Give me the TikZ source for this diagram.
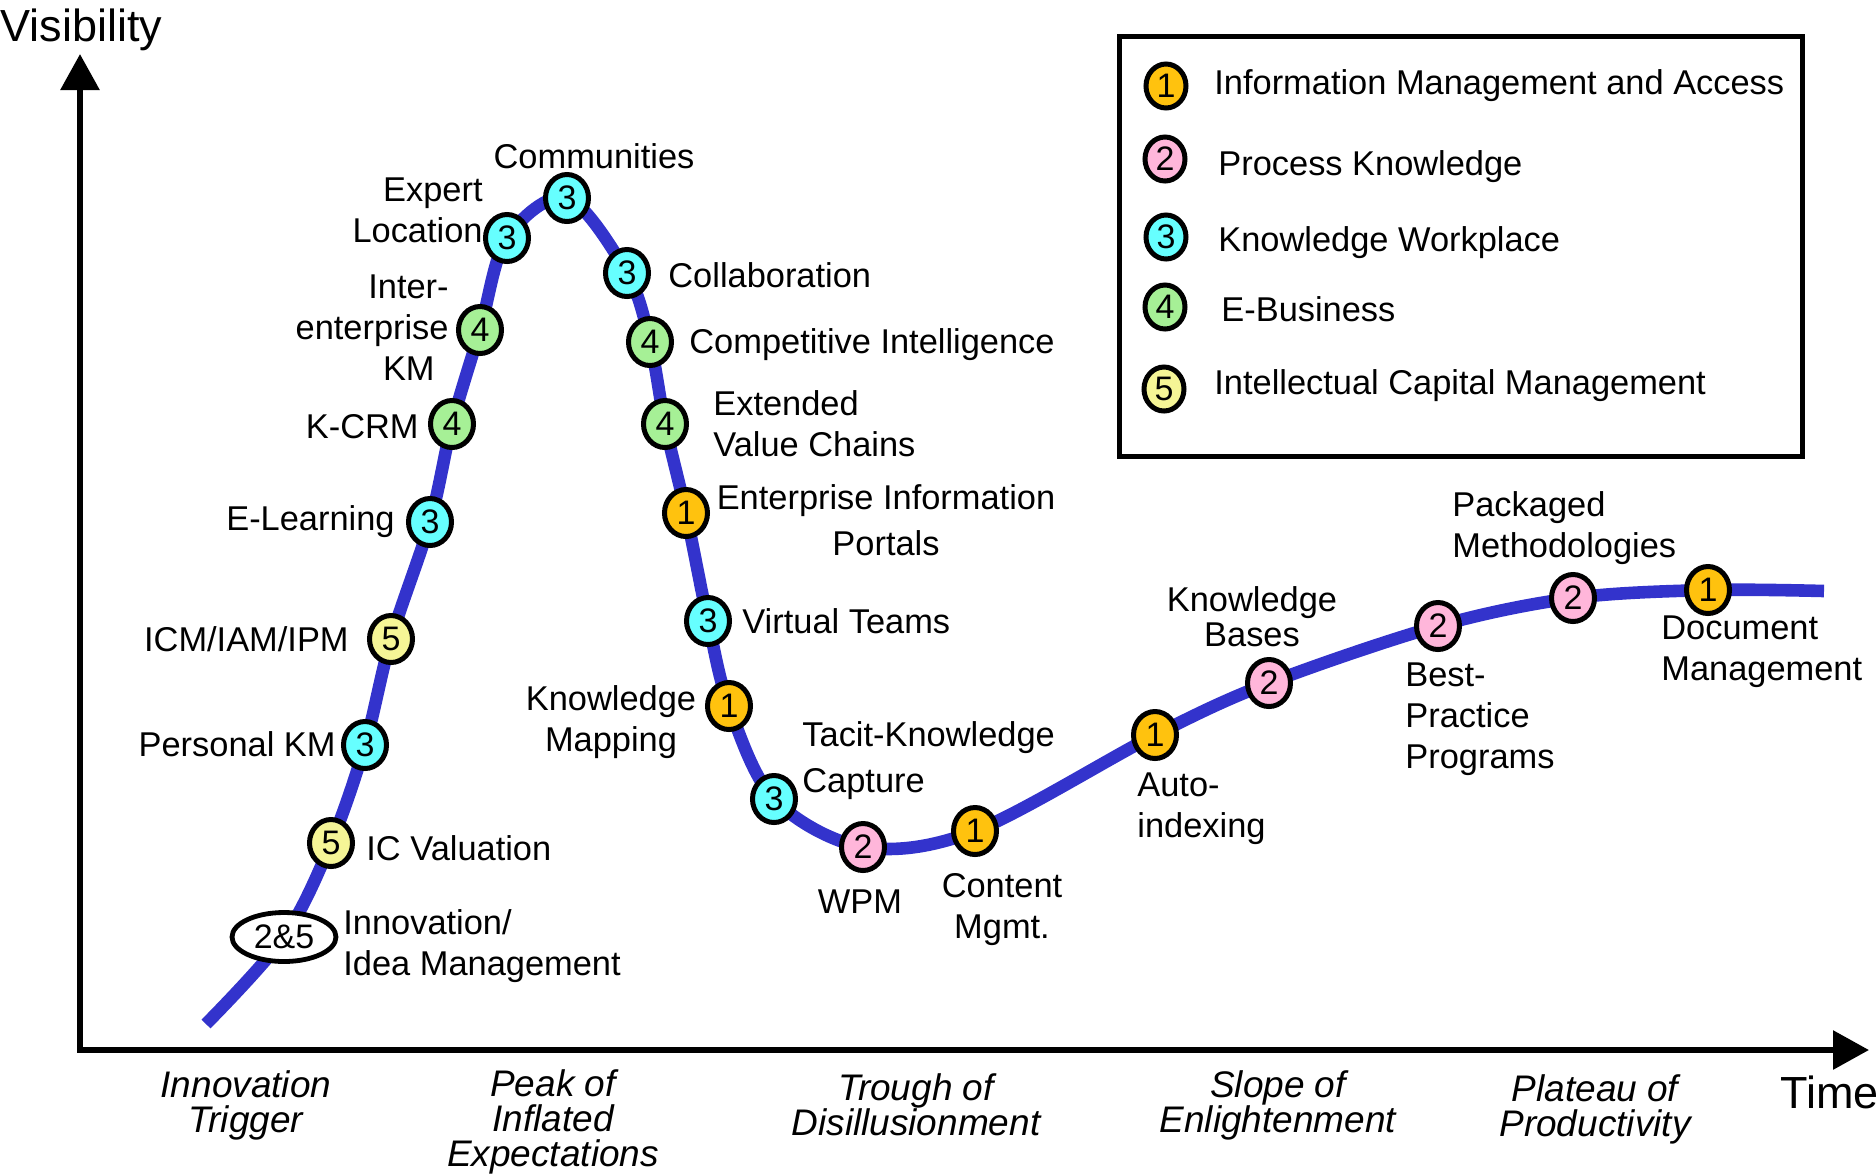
\documentclass[tikz,border=0pt]{standalone}
\usepackage{fontspec}
\setmainfont{Liberation Sans}
\usetikzlibrary{shapes.geometric,arrows.meta}
\definecolor{cone}{RGB}{255,194,14}
\definecolor{ctwo}{RGB}{255,182,218}
\definecolor{cthree}{RGB}{102,255,255}
\definecolor{cfour}{RGB}{166,240,150}
\definecolor{cfive}{RGB}{245,245,150}
\definecolor{curvecol}{RGB}{51,51,204}
\begin{document}
\begin{tikzpicture}[x=0.5pt,y=-0.5pt,
  lbl/.style={font=\fontsize{17.2}{20.5}\selectfont, inner sep=0pt},
  phase/.style={font=\fontsize{18.5}{17.5}\selectfont\itshape, align=center, inner sep=0pt},
  axlbl/.style={font=\fontsize{22.5}{24}\selectfont, inner sep=0pt},
  badge/.style={ellipse, draw, line width=2.5pt, minimum width=21.5pt, minimum height=23.5pt, inner sep=0pt, font=\fontsize{17}{17}\selectfont},
  lgbadge/.style={badge, minimum width=20pt, minimum height=22pt},
  bone/.style={badge, fill=cone}, btwo/.style={badge, fill=ctwo},
  bthree/.style={badge, fill=cthree}, bfour/.style={badge, fill=cfour},
  bfive/.style={badge, fill=cfive},
  axisline/.style={line width=3pt, line join=miter, {Triangle[width=19pt,length=18pt]}-{Triangle[width=19pt,length=18pt]}},
  curveline/.style={line width=6.3pt, draw=curvecol, line cap=butt}]
\useasboundingbox (0,0) rectangle (1876,1175);
% axes
\coordinate (ytop) at (80,54);
\coordinate (org) at (80,1050);
\coordinate (xtip) at (1869,1050);
\draw[axisline] (ytop) -- (org) -- (xtip);
\node[axlbl, anchor=west] (vis) at (0,30) {Visibility};
\node[axlbl, anchor=west] (time) at (1780,1092) {Time};
% curve points
\coordinate (p0) at (206,1024);
\coordinate (p1) at (284,937);
\coordinate (p2) at (331,843);
\coordinate (p3) at (365,745);
\coordinate (p4) at (391,639);
\coordinate (p5) at (430,522);
\coordinate (p6) at (452,424);
\coordinate (p7) at (480,330);
\coordinate (p8) at (507,238);
\coordinate (p9) at (567,198);
\coordinate (p10) at (627,273);
\coordinate (p11) at (650,342);
\coordinate (p12) at (665,424);
\coordinate (p13) at (686,513);
\coordinate (p14) at (708,621);
\coordinate (p15) at (729,706);
\coordinate (p16) at (774,799);
\coordinate (p17) at (863,847);
\coordinate (p18) at (975,831);
\coordinate (p19) at (1155,735);
\coordinate (p20) at (1269,683);
\coordinate (p21) at (1438,626);
\coordinate (p22) at (1573,598);
\coordinate (p23) at (1708,590);
\coordinate (p24) at (1824,591);
\draw[curveline] plot[smooth, tension=0.55] coordinates {(p0) (p1) (p2) (p3) (p4) (p5) (p6) (p7) (p8) (p9) (p10) (p11) (p12) (p13) (p14) (p15) (p16) (p17) (p18) (p19) (p20) (p21) (p22) (p23) (p24)};
% badges on curve
\node[ellipse, draw, fill=white, line width=2.4pt, minimum width=52pt, minimum height=24.5pt, inner sep=0pt, font=\fontsize{17}{17}\selectfont] (n25) at (p1) {2\&5};
\node[bfive] (b2) at (p2) {5};
\node[bthree] (b3) at (p3) {3};
\node[bfive] (b4) at (p4) {5};
\node[bthree] (b5) at (p5) {3};
\node[bfour] (b6) at (p6) {4};
\node[bfour] (b7) at (p7) {4};
\node[bthree] (b8) at (p8) {3};
\node[bthree] (b9) at (p9) {3};
\node[bthree] (b10) at (p10) {3};
\node[bfour] (b11) at (p11) {4};
\node[bfour] (b12) at (p12) {4};
\node[bone] (b13) at (p13) {1};
\node[bthree] (b14) at (p14) {3};
\node[bone] (b15) at (p15) {1};
\node[bthree] (b16) at (p16) {3};
\node[btwo] (b17) at (p17) {2};
\node[bone] (b18) at (p18) {1};
\node[bone] (b19) at (p19) {1};
\node[btwo] (b20) at (p20) {2};
\node[btwo] (b21) at (p21) {2};
\node[btwo] (b22) at (p22) {2};
\node[bone] (b23) at (p23) {1};
% labels
\node[lbl] (lcom) at (594,156) {Communities};
\node[lbl, anchor=east, align=right] (lexp) at (483,210) {Expert\\Location};
\node[lbl, anchor=east, align=right] (liekm) at (449,328) {Inter-\\enterprise\\KM\hspace*{7pt}};
\node[lbl, anchor=east] (lkcrm) at (419,427) {K-CRM};
\node[lbl, anchor=east] (lel) at (395,522) {E-Learning};
\node[lbl, anchor=east] (licm) at (349,639) {ICM/IAM/IPM};
\node[lbl, anchor=east] (lpkm) at (336,744) {Personal KM};
\node[lbl, anchor=west] (licv) at (366,848) {IC Valuation};
\node[lbl, anchor=west, align=left] (linn) at (343,946) {Innovation/\\Idea Management};
\node[lbl, anchor=west] (lcol) at (668,275) {Collaboration};
\node[lbl, anchor=west] (lci) at (689,345) {Competitive Intelligence};
\node[lbl, anchor=west, align=left] (levc) at (713,424) {Extended\\Value Chains};
\node[lbl, align=center] (leip) at (886,520) {Enterprise Information\\[2.5pt]Portals};
\node[lbl, anchor=west] (lvt) at (742,621) {Virtual Teams};
\node[lbl, align=center] (lkm) at (611,722) {Knowledge\\Mapping};
\node[lbl, anchor=west, align=left] (ltkc) at (802,761) {Tacit-Knowledge\\[2.5pt]Capture};
\node[lbl] (lwpm) at (860,902) {WPM};
\node[lbl, align=center] (lcm) at (1002,910) {Content\\Mgmt.};
\node[lbl, anchor=west, align=left] (lai) at (1137,809) {Auto-\\indexing};
\node[lbl, align=center, font=\fontsize{17.2}{17.5}\selectfont] (lkb) at (1252,617) {Knowledge\\Bases};
\node[lbl, anchor=west, align=left] (lbpp) at (1405,719) {Best-\\Practice\\Programs};
\node[lbl, anchor=west, align=left] (lpm) at (1452,528) {Packaged\\Methodologies};
\node[lbl, anchor=west, align=left] (ldm) at (1661,652) {Document\\Management};
% phases
\node[phase] (ph1) at (246,1105) {Innovation\\Trigger};
\node[phase] (ph2) at (553,1122) {Peak of\\Inflated\\Expectations};
\node[phase] (ph3) at (916,1105) {Trough of\\Disillusionment};
\node[phase] (ph4) at (1278,1105) {Slope of\\Enlightenment};
\node[phase] (ph5) at (1595,1109) {Plateau of\\Productivity};
% legend
\draw[line width=2.5pt] (1119,36) rectangle (1802,456);
\node[lgbadge, fill=cone] (lg1) at (1166,86) {1};
\node[lgbadge, fill=ctwo] (lg2) at (1165,159) {2};
\node[lgbadge, fill=cthree] (lg3) at (1166,237) {3};
\node[lgbadge, fill=cfour] (lg4) at (1165,307) {4};
\node[lgbadge, fill=cfive] (lg5) at (1164,389) {5};
\node[lbl, anchor=west] (lt1) at (1214,86) {Information Management and Access};
\node[lbl, anchor=west] (lt2) at (1218,167) {Process Knowledge};
\node[lbl, anchor=west] (lt3) at (1218,243) {Knowledge Workplace};
\node[lbl, anchor=west] (lt4) at (1221,309) {E-Business};
\node[lbl, anchor=west] (lt5) at (1214,386) {Intellectual Capital Management};
\end{tikzpicture}
\end{document}
